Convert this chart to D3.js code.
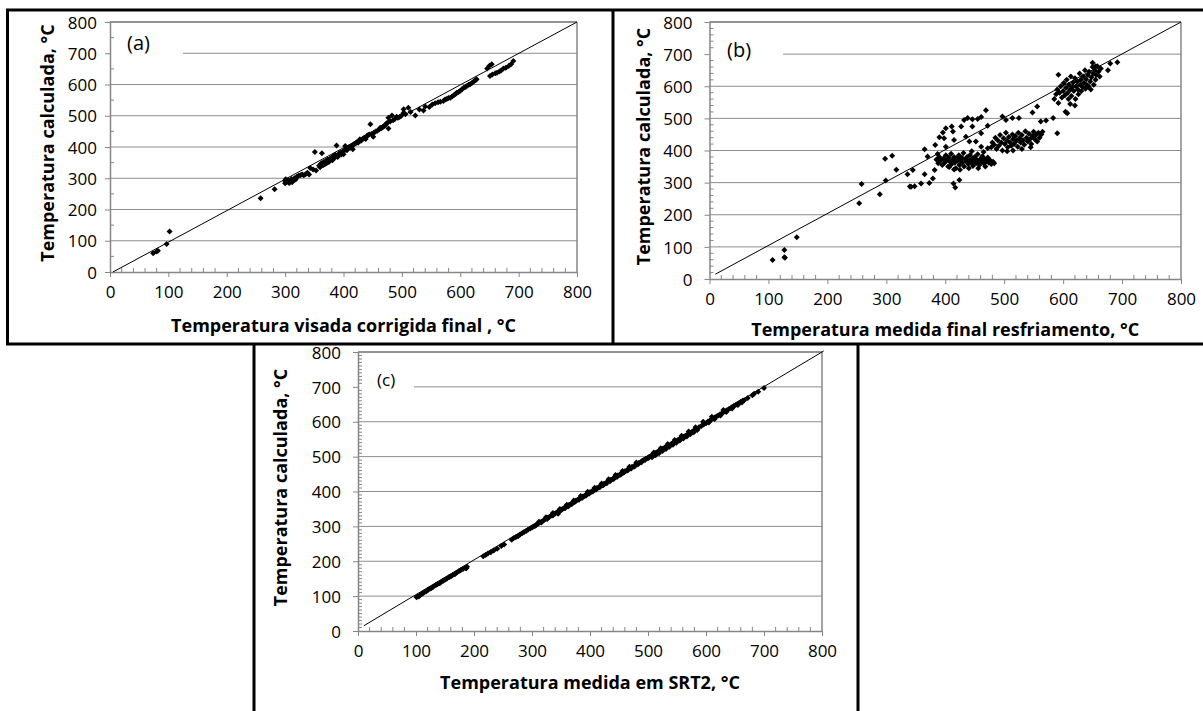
<!DOCTYPE html>
<html><head><meta charset="utf-8">
<script src="https://cdn.jsdelivr.net/npm/d3@7"></script>
<style>
html,body{margin:0;padding:0;background:#fff;}
svg{display:block;}
text{font-family:"Open Sans",sans-serif;}
</style></head>
<body>
<svg id="chart" width="1203" height="711"></svg>
<script>
// ---------------- DATA ----------------
const yAxisTitle = "Temperatura calculada, °C";
const xTitleA = "Temperatura visada corrigida final , °C";
const xTitleB = "Temperatura medida final resfriamento, °C";
const xTitleC = "Temperatura medida em SRT2, °C";
const panelLabels = ["(a)", "(b)", "(c)"];
const majorTicks = [0,100,200,300,400,500,600,700,800];

const lineA = [[5,0],[800,800]];
const lineB = [[10,15],[800,800]];
const lineC = [[10,15],[803,803]];

const pointsA = [[74,60],[80,66],[82,68],[97,90],[102,130],[258,236],[282,265],
[300,284],[300,292],[301,297],[303,288],[305,293],[307,285],[309,290],[311,298],[312,287],[314,294],[316,300],[318,296],[320,305],[323,308],[326,310],[329,312],[332,310],[335,313],[338,318],[341,312],[343,333],[348,328],[351,384],[353,325],[358,340],[360,335],[363,380],[362,348],[365,342],[366,352],[368,345],[370,356],[371,348],[373,360],[375,352],[377,362],[379,366],[381,358],[383,371],[385,366],[386,375],[388,405],[389,372],[390,368],[392,378],[394,382],[396,376],[398,384],[400,377],[401,388],[403,403],[404,392],[406,390],[408,396],[410,400],[412,398],[414,404],[416,393],[417,408],[419,410],[421,412],[423,416],[425,414],[428,425],[430,420],[432,424],[434,428],[436,430],[438,426],[440,435],[442,438],[444,440],[446,473],[448,442],[451,433],[452,446],[455,450],[458,452],[461,456],[463,462],[465,460],[467,464],[469,466],[471,470],[473,474],[475,478],[477,459],[477,494],[480,482],[483,501],[485,486],[488,490],[491,497],[493,494],[496,496],[499,500],[503,510],[503,521],[506,505],[511,526],[515,512],[523,501],[530,520],[537,517],[540,530],[547,528],[552,536],[557,540],[562,543],[566,545],[571,547],[574,552],[577,554],[580,557],[583,558],[586,562],[589,566],[592,570],[594,574],[597,576],[600,580],[603,585],[606,590],[609,592],[612,596],[615,600],[617,601],[620,605],[623,610],[626,614],[628,617],[646,651],[650,660],[654,665],[651,627],[655,632],[660,636],[663,638],[667,642],[670,645],[674,651],[678,654],[683,659],[687,665],[691,675]];

const pointsB = [[107,59],[127,90],[127,68],[128,66],[148,130],[254,236],[258,296],[289,264],[299,307],[298,374],[310,384],[317,340],[336,326],[340,288],[345,339],[342,287],[348,289],[359,297],[365,326],[365,404],[370,381],[373,299],[379,313],[383,417],[382,339],[387,389],[390,441],[396,456],[401,469],[411,475],[413,459],[401,412],[398,438],[415,433],[407,349],[415,341],[414,297],[417,285],[424,308],[427,475],[432,495],[438,501],[446,497],[455,498],[461,504],[469,525],[472,477],[461,454],[446,475],[435,443],[441,428],[452,428],[461,412],[472,407],
[385,372],[388,360],[390,380],[392,368],[395,355],[397,375],[399,362],[401,385],[403,370],[405,350],[406,378],[408,365],[410,390],[411,358],[413,372],[415,380],[416,362],[418,345],[420,375],[421,368],[423,385],[424,355],[426,370],[428,378],[429,362],[431,392],[432,350],[434,372],[436,365],[437,380],[439,358],[441,370],[442,386],[444,362],[446,375],[447,352],[449,368],[450,380],[452,360],[453,372],[455,388],[457,365],[458,355],[460,374],[462,368],[463,382],[465,360],[467,372],[468,350],[470,366],[472,378],[474,362],[476,370],[478,358],[481,365],[483,360],[425,340],[440,345],[456,345],[465,395],[445,398],
[478,410],[480,425],[483,418],[485,440],[487,405],[489,432],[491,415],[493,448],[495,425],[497,400],[499,438],[501,420],[503,455],[505,430],[506,410],[508,442],[510,425],[512,415],[514,450],[515,435],[517,420],[519,445],[521,430],[523,412],[524,455],[526,438],[528,425],[530,448],[532,432],[534,418],[536,460],[538,440],[540,428],[542,452],[544,436],[546,420],[548,445],[550,458],[552,435],[554,448],[556,428],[558,455],[560,440],[563,450],[565,458],[497,506],[503,495],[514,501],[525,501],[548,518],[556,537],[562,490],[571,493],[583,501],[590,454],[505,398],[515,400],[530,405],[545,410],
[592,636],[585,560],[588,575],[590,590],[592,548],[594,580],[596,600],[598,565],[600,585],[601,610],[603,572],[604,521],[607,516],[605,595],[606,620],[608,580],[609,560],[610,605],[612,590],[613,630],[614,570],[616,598],[617,612],[618,585],[620,625],[621,560],[622,600],[624,615],[625,590],[626,575],[628,640],[629,605],[630,620],[631,585],[633,598],[634,630],[635,610],[637,650],[638,592],[639,622],[640,605],[642,635],[643,600],[644,645],[646,615],[647,590],[648,628],[650,660],[651,640],[652,605],[654,650],[655,620],[656,635],[658,662],[660,645],[662,630],[664,655],[650,673],[655,662],[676,650],[680,671],[692,675],[612,545],[620,540]];

const pointsC = [[101,97],[103,100],[105,99],[107,103],[110,106],[112,108],[115,112],[118,114],[121,118],[124,121],[127,123],[130,127],[134,131],[137,134],[141,137],[144,141],[147,144],[150,147],[153,150],[157,154],[160,156],[163,160],[167,163],[170,167],[174,171],[177,174],[181,178],[185,181],[188,184],[187,180],
[216,214],[220,218],[224,222],[229,226],[234,231],[240,236],[247,244],[252,248],
[265,262],[268,266],[272,269],[276,272],[279,276],[283,280],[286,283],[290,287],[293,290],[297,294],[300,297],[303,300],[307,304],[310,307],[313,311],[317,314],[320,317],[323,321],[327,324],[330,327],[333,331],[337,334],[340,337],
[343,340],[346,344],[349,346],[352,350],[355,352],[358,356],[361,358],[364,362],[367,364],[370,368],[373,370],[376,374],[379,376],[382,380],[385,382],[388,386],[391,388],[394,392],[397,394],[400,398],[403,400],[406,404],[409,406],[412,410],[415,412],[418,416],[421,418],[424,422],[427,424],[430,428],[433,430],[436,434],[439,436],[442,440],[445,442],[448,446],[451,448],[454,452],[457,454],[460,458],[463,460],[466,464],[469,466],[472,470],[475,472],[478,476],[481,478],[484,482],[487,484],[490,488],[493,490],[496,494],[499,496],[502,500],[505,502],[508,506],[511,508],[514,512],[517,514],[520,518],
[345,336],[351,347],[357,352],[363,358],[369,364],[375,371],[381,376],[387,382],[393,388],[399,394],[405,400],[411,406],[417,412],[423,418],[429,424],[435,430],[441,436],[447,442],[453,448],[459,455],[465,460],[471,466],[477,472],[483,478],[489,484],[495,490],[501,496],
[348,350],[360,362],[372,374],[384,387],[396,399],[408,411],[420,423],[432,435],[444,447],[456,459],[468,471],[480,483],
[306,302],[316,311],[326,321],[336,331],[312,313],[324,326],[336,338],
[523,520],[526,523],[529,526],[532,529],[536,532],[540,536],[543,540],[547,543],[551,547],[555,551],[560,556],[565,560],[570,566],[575,570],[580,576],[584,580],[588,584],[592,588],[596,592],[600,596],[603,600],[606,603],[609,606],[612,609],[615,612],[618,615],[621,618],[624,621],[627,624],[630,627],[633,630],[636,633],[639,636],[642,639],[645,642],[648,645],[651,648],[654,651],[657,654],[660,657],[663,660],[666,662],
[507,498],[513,504],[519,510],[525,516],[531,522],[537,528],[543,534],[549,540],[555,546],[561,552],[567,558],[573,564],[579,570],[585,576],
[510,512],[522,524],[534,536],[546,548],[558,560],[570,572],[582,584],
[605,598],[615,608],[625,618],[635,628],[645,638],[655,648],[662,655],[595,600],[610,614],[630,634],
[672,668],[680,676],[683,680],[690,686],[700,697]];

// ---------------- LAYOUT ----------------
const panels = [
  {pts: pointsA, line: lineA, xTitle: xTitleA, label: panelLabels[0],
   left:110, right:577, top:22, bottom:272, yTitleX:49, xTitleY:327,
   labelX:127, labelY:45, labelSize:20, gapEnd:183, yMinor:50, yPad:8},
  {pts: pointsB, line: lineB, xTitle: xTitleB, label: panelLabels[1],
   left:709.5, right:1181, top:22, bottom:279, yTitleX:645, xTitleY:331,
   labelX:727, labelY:52, labelSize:20, gapEnd:783, yMinor:20, yPad:12},
  {pts: pointsC, line: lineC, xTitle: xTitleC, label: panelLabels[2],
   left:358, right:822, top:352, bottom:631, yTitleX:282, xTitleY:684,
   labelX:377, labelY:381, labelSize:17, gapEnd:414, yMinor:10, yPad:12}
];
const rowBorderY = 344;

const svg = d3.select("#chart");
const axisColor = "#868686";
const gridColor = "#8c8c8c";

panels.forEach(p => {
  const x = d3.scaleLinear().domain([0,800]).range([p.left, p.right]);
  const y = d3.scaleLinear().domain([0,800]).range([p.bottom, p.top]);
  const g = svg.append("g");

  majorTicks.filter(v => v > 0 && v < 800).forEach(v => {
    g.append("line")
      .attr("x1", v === 700 ? p.gapEnd : x(0)).attr("x2", x(800))
      .attr("y1", y(v)).attr("y2", y(v))
      .attr("stroke", gridColor).attr("stroke-width", 1);
  });
  g.append("line").attr("x1", x(0)).attr("x2", x(800)).attr("y1", y(800)).attr("y2", y(800))
    .attr("stroke", "#6e6e6e").attr("stroke-width", 1.5);
  g.append("line").attr("x1", x(800)).attr("x2", x(800)).attr("y1", y(800)).attr("y2", y(0))
    .attr("stroke", axisColor).attr("stroke-width", 1.5);

  d3.range(0, 801, 20).filter(v => v % 100 !== 0).forEach(v => {
    g.append("line").attr("x1", x(v)).attr("x2", x(v)).attr("y1", y(0)).attr("y2", y(0) - 4)
      .attr("stroke", axisColor);
  });
  d3.range(0, 801, p.yMinor).filter(v => v % 100 !== 0).forEach(v => {
    g.append("line").attr("x1", x(0)).attr("x2", x(0) + 4).attr("y1", y(v)).attr("y2", y(v))
      .attr("stroke", axisColor);
  });

  const xAxis = g.append("g").attr("transform", `translate(0,${y(0)})`)
    .call(d3.axisBottom(x).tickValues(majorTicks).tickSize(5).tickSizeOuter(0).tickPadding(9));
  const yAxis = g.append("g").attr("transform", `translate(${x(0)},0)`)
    .call(d3.axisLeft(y).tickValues(majorTicks).tickSize(5).tickSizeOuter(0).tickPadding(p.yPad));
  [xAxis, yAxis].forEach(a => {
    a.select(".domain").attr("stroke", axisColor).attr("stroke-width", 1.5);
    a.selectAll(".tick line").attr("stroke", axisColor);
    a.selectAll(".tick text").attr("fill", "#000")
      .style("font-family", "'Open Sans', sans-serif").style("font-size", "17px");
  });
  yAxis.selectAll(".tick text").attr("dy", "0.36em");

  g.append("path").datum(p.line)
    .attr("d", d3.line().x(d => x(d[0])).y(d => y(d[1])))
    .attr("stroke", "#000").attr("stroke-width", 1).attr("fill", "none");

  const sym = d3.symbol(d3.symbolSquare).size(18);
  g.selectAll("path.pt").data(p.pts).enter().append("path").attr("class", "pt")
    .attr("d", sym)
    .attr("transform", d => `translate(${x(d[0])},${y(d[1])}) rotate(45)`)
    .attr("fill", "#000");

  g.append("text").attr("x", p.labelX).attr("y", p.labelY)
    .attr("dominant-baseline", "middle")
    .style("font-size", p.labelSize + "px").text(p.label);

  g.append("text").attr("x", (x(0) + x(800)) / 2).attr("y", p.xTitleY)
    .attr("text-anchor", "middle").attr("dominant-baseline", "middle")
    .style("font-size", "18px").style("font-weight", "bold").text(p.xTitle);
  g.append("text")
    .attr("transform", `translate(${p.yTitleX},${(y(0) + y(800)) / 2 - 4}) rotate(-90)`)
    .attr("text-anchor", "middle").attr("dominant-baseline", "middle")
    .style("font-size", "18px").style("font-weight", "bold").text(yAxisTitle);
});

const frame = svg.append("g").attr("stroke", "#000").attr("stroke-width", 3);
frame.append("line").attr("x1", 6).attr("x2", 1203).attr("y1", 10).attr("y2", 10);
frame.append("line").attr("x1", 7.5).attr("x2", 7.5).attr("y1", 10).attr("y2", rowBorderY);
frame.append("line").attr("x1", 613).attr("x2", 613).attr("y1", 10).attr("y2", rowBorderY);
frame.append("line").attr("x1", 6).attr("x2", 1203).attr("y1", rowBorderY).attr("y2", rowBorderY);
frame.append("line").attr("x1", 254).attr("x2", 254).attr("y1", rowBorderY).attr("y2", 711);
frame.append("line").attr("x1", 858).attr("x2", 858).attr("y1", rowBorderY).attr("y2", 711);
</script>
</body></html>
